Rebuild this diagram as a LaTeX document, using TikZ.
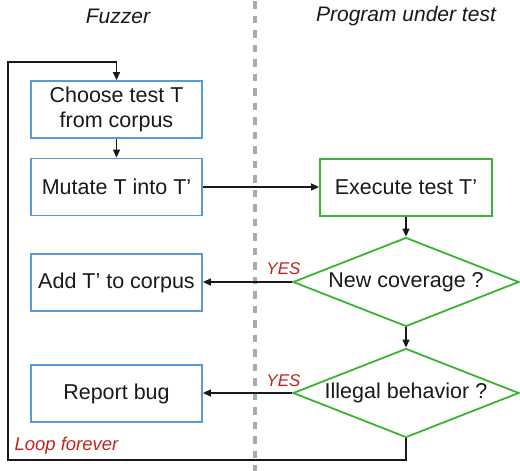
\documentclass[tikz,border=0pt]{standalone}
\usepackage{fontspec}
\setmainfont{Liberation Sans}
\usetikzlibrary{shapes.geometric,arrows.meta}
\definecolor{boxblue}{RGB}{91,155,213}
\definecolor{boxgreen}{RGB}{58,180,48}
\definecolor{labred}{RGB}{192,36,28}
\definecolor{divgray}{RGB}{170,170,170}
\begin{document}
\begin{tikzpicture}[x=1pt,y=-1pt,
  txt/.style={font=\fontsize{21.5}{25}\selectfont, align=center, text=black!90},
  fuzzbox/.style={txt, draw=boxblue, line width=1.8pt, rectangle,
    minimum width=171pt, minimum height=57pt, inner sep=0pt},
  progbox/.style={txt, draw=boxgreen, line width=1.8pt, rectangle,
    minimum width=172pt, minimum height=57pt, inner sep=0pt},
  decision/.style={txt, draw=boxgreen, line width=1.8pt, diamond, aspect=2.55,
    minimum width=226pt, minimum height=89pt, inner sep=0pt},
  flow/.style={draw=black!90, line width=1.3pt, -{Triangle[length=8pt,width=7pt]}},
  heading/.style={font=\fontsize{21}{24}\selectfont\itshape, text=black!90},
  yeslabel/.style={font=\fontsize{17}{19}\selectfont\itshape, text=labred}]
\useasboundingbox (0,0) rectangle (520,471);

% lane divider
\draw[divgray, line width=3.4pt, dash pattern=on 7.5pt off 7pt] (255,1) -- (255,471);

% lane headings
\node[heading] (hfuzz) at (118,16) {Fuzzer};
\node[heading] (hprog) at (406,16) {Program under test};

% fuzzer steps
\node[fuzzbox] (choose) at (116.5,109.5) {Choose test T\\from corpus};
\node[fuzzbox] (mutate) at (116.5,187) {Mutate T into T’};
\node[fuzzbox] (add) at (116.5,282.5) {Add T’ to corpus};
\node[fuzzbox] (report) at (116.5,393.5) {Report bug};

% program under test
\node[progbox] (exec) at (406,187.5) {Execute test T’};
\node[decision] (cov) at (406,282) {New coverage ?};
\node[decision] (ill) at (406,393) {Illegal behavior ?};

% loop corners
\coordinate (lb) at (8,460);
\coordinate (lt) at (8,62);

% connectors
\draw[flow] (choose.south) -- (mutate.north);
\draw[flow] (mutate.east) -- (exec.west |- mutate.east);
\draw[flow] (exec.south) -- (cov.north);
\draw[flow] (cov.west) -- (add.east |- cov.west);
\draw[flow] (cov.south) -- (ill.north);
\draw[flow] (ill.west) -- (report.east |- ill.west);
\draw[flow] (ill.south) |- (lb) -- (lt) -| (choose.north);

% labels
\node[yeslabel] (yes1) at (283.5,269) {YES};
\node[yeslabel] (yes2) at (283.5,381) {YES};
\node[yeslabel, font=\fontsize{18.5}{21}\selectfont\itshape, anchor=west] (loop) at (11,446) {Loop forever};
\end{tikzpicture}
\end{document}
